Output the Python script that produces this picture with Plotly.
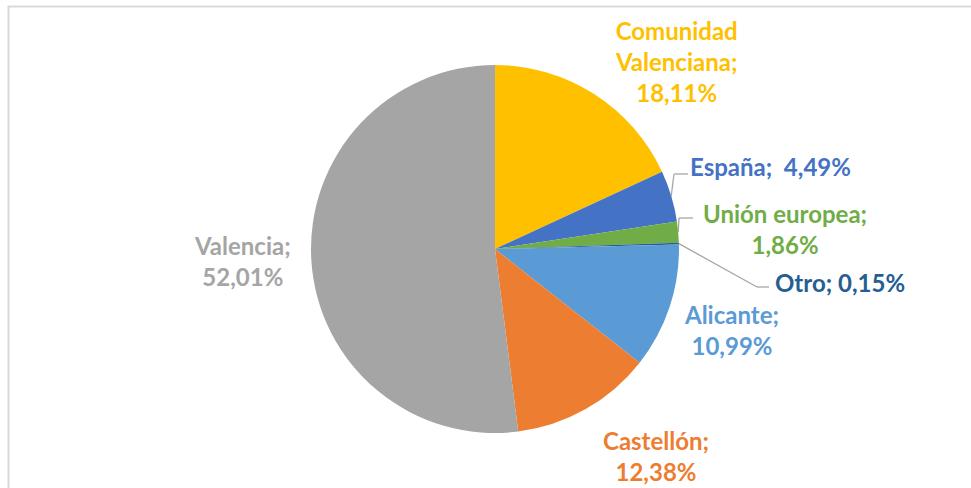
import math
import plotly.graph_objects as go

labels = ["Comunidad Valenciana", "España", "Unión europea", "Otro", "Alicante", "Castellón", "Valencia"]
values = [18.11, 4.49, 1.86, 0.15, 10.99, 12.38, 52.01]
colors = ["#FFC000", "#4472C4", "#70AD47", "#255E91", "#5B9BD5", "#ED7D31", "#A5A5A5"]
label_text = ["Comunidad<br>Valenciana;<br>{p}", "España;\u00a0\u00a0{p}", "Unión europea;<br>{p}",
              "Otro; {p}", "Alicante;<br>{p}", "Castellón;<br>{p}", "Valencia;<br>{p}"]
# label anchor positions (pixels in the 971x488 canvas)
label_pos = [(676, 62), (770, 167), (785, 229), (840, 282), (731, 330), (656, 456), (243, 261)]
# leader-line elbow/end points for small slices (pixels)
leaders = {1: [(674, 174), (688, 174)], 2: [(679, 218), (693, 218)], 3: [(757, 287), (769, 287)]}

W, H = 971, 488
cx, cy, r = 495, 249, 184

fig = go.Figure(go.Pie(
    labels=labels, values=values, sort=False, direction="clockwise", rotation=0,
    marker=dict(colors=colors, line=dict(width=0)),
    textinfo="none", hoverinfo="label+percent", showlegend=False,
    domain=dict(x=[(cx - r) / W, (cx + r) / W], y=[1 - (cy + r) / H, 1 - (cy - r) / H]),
))

ann = []
for i, (lab, v) in enumerate(zip(labels, values)):
    p = f"{v:.2f}".replace(".", ",") + "%"
    x, y = label_pos[i]
    ann.append(dict(x=x / W, y=1 - y / H, xref="paper", yref="paper", text=label_text[i].format(p=p),
                    showarrow=False, font=dict(family="Lato", size=24, color=colors[i], weight="bold"),
                    xanchor="center", yanchor="middle", align="center"))

shapes = [dict(type="rect", xref="paper", yref="paper", x0=8.5 / W, y0=-0.05, x1=1.05, y1=1 - 6.5 / H,
               line=dict(color="#D9D9D9", width=2), layer="below")]
total = sum(values)
cum = 0
for i, v in enumerate(values):
    mid = (cum + v / 2) / total * 2 * math.pi
    cum += v
    if i in leaders:
        sx = cx + r * math.sin(mid)
        sy = cy - r * math.cos(mid)
        pts = [(sx, sy)] + leaders[i]
        for (ax_, ay_), (bx_, by_) in zip(pts[:-1], pts[1:]):
            shapes.append(dict(type="line", xref="paper", yref="paper",
                               x0=ax_ / W, y0=1 - ay_ / H, x1=bx_ / W, y1=1 - by_ / H,
                               line=dict(color="#A6A6A6", width=1.3)))

fig.update_layout(width=W, height=H, margin=dict(l=0, r=0, t=0, b=0),
                  paper_bgcolor="white", plot_bgcolor="white",
                  annotations=ann, shapes=shapes, font=dict(family="Lato"))
fig.write_html("out.html", config={"displayModeBar": False},
               post_script="document.body.style.margin='0';document.body.style.overflow='hidden';")
